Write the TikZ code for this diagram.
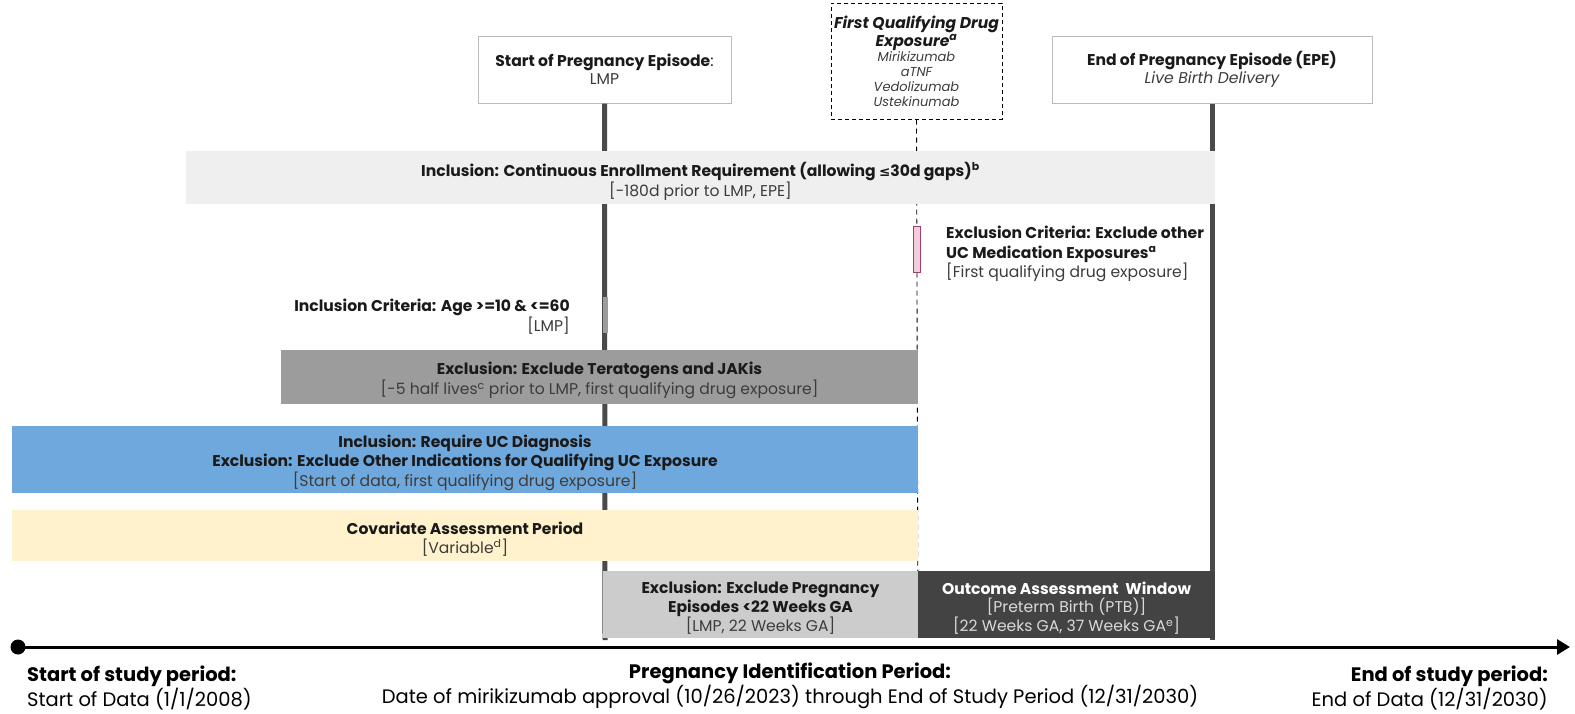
\documentclass[tikz,border=0pt]{standalone}
\usepackage{fontspec}
\setmainfont{Poppins}
\newfontfamily\dvsans{DejaVu Sans}
\usetikzlibrary{arrows.meta}

\definecolor{inktext}{HTML}{1A1A1A}
\definecolor{subtext}{HTML}{3C3C3C}
\definecolor{boxedge}{HTML}{BBBBBB}
\definecolor{epline}{HTML}{4A4A4A}
\definecolor{enrollfill}{HTML}{EFEFEF}
\definecolor{teratofill}{HTML}{9C9C9C}
\definecolor{ucfill}{HTML}{6FA8DC}
\definecolor{covfill}{HTML}{FFF2CC}
\definecolor{gafill}{HTML}{CCCCCC}
\definecolor{outfill}{HTML}{434343}
\definecolor{pinkfill}{HTML}{F3CCDD}
\definecolor{pinkedge}{HTML}{A0406A}

\newcommand{\itemfont}{\fontsize{13}{15.5}\selectfont\itshape\color{subtext}}

\begin{document}
\begin{tikzpicture}[x=1pt,y=-1pt,
  topbox/.style={draw=boxedge, line width=1pt, fill=white, align=center,
    inner sep=0pt, text=inktext, font=\fontsize{15.6}{18}\selectfont},
  drugbox/.style={draw=black, line width=1pt, dashed, dash pattern=on 4pt off 3pt,
    fill=white, align=center, inner sep=0pt, text=inktext,
    font=\fontsize{15.6}{19}\selectfont},
  bandbox/.style={draw=none, inner sep=0pt},
  bandtext/.style={align=center, inner sep=0pt, text=inktext, yshift=-3.5pt,
    font=\fontsize{15.6}{18.5}\selectfont},
  note/.style={inner sep=0pt, text=inktext, font=\fontsize{15.6}{19.5}\selectfont},
  footnote/.style={inner sep=0pt, text=black, font=\fontsize{19.5}{20.5}\selectfont},
  episodeline/.style={draw=epline, line width=5pt},
  drugline/.style={draw=black, line width=0.9pt, dash pattern=on 5pt off 4pt}
]
\useasboundingbox (0,0) rectangle (1575,713);

% event boxes at the top
\node[topbox, minimum width=253pt, minimum height=67pt] (lmp) at (604.5,69.5)
  {\textbf{Start of Pregnancy Episode}:\\ {\color{subtext}LMP}};
\node[drugbox, minimum width=171pt, minimum height=116pt] (drug) at (916.5,61)
  {\textbf{\textit{First Qualifying Drug}}\\[-1pt]
   \textbf{\textit{Exposure\textsuperscript{a}}}\\[-4pt]
   {\itemfont Mirikizumab}\\[-4pt]
   {\itemfont aTNF}\\[-4pt]
   {\itemfont Vedolizumab}\\[-4pt]
   {\itemfont Ustekinumab}};
\node[topbox, minimum width=320pt, minimum height=67pt] (epe) at (1212,69.5)
  {\textbf{End of Pregnancy Episode (EPE)}\\ {\itshape\color{subtext}Live Birth Delivery}};

% vertical event lines down to the timeline
\coordinate (lmpend) at (605,640);
\coordinate (drugend) at (918,640);
\coordinate (epeend) at (1212,640);
\draw[episodeline] (lmp.south) -- (lmpend);
\draw[drugline] (drug.south) -- (drugend);
\draw[episodeline] (epe.south) -- (epeend);

% age marker on the LMP line
\node[fill=teratofill, draw=none, minimum width=5pt, minimum height=36pt, inner sep=0pt]
  (agemark) at (605,315) {};

% exclusion of other UC medications at first exposure
\node[draw=pinkedge, fill=pinkfill, line width=0.9pt, minimum width=7pt,
  minimum height=46pt, inner sep=0pt] (ucmed) at (917,249) {};
\node[note, anchor=north west, align=left] (ucmedtext) at (946,226)
  {\textbf{Exclusion Criteria: Exclude other}\\
   \textbf{UC Medication Exposures\textsuperscript{a}}\\
   {\color{subtext}[First qualifying drug exposure]}};

% age criterion
\node[note, anchor=north east, align=right] (agetext) at (570,299)
  {\textbf{Inclusion Criteria: Age >=10 \& <=60}\\ {\color{subtext}[LMP]}};

% assessment windows
\node[bandbox, fill=enrollfill, minimum width=1029pt, minimum height=53pt] (enroll) at (700.5,177.5) {};
\node[bandtext] (enrolltext) at (enroll.center)
  {\textbf{Inclusion: Continuous Enrollment Requirement (allowing {\dvsans\bfseries\fontsize{13.5}{19}\selectfont ≤}30d gaps)\textsuperscript{b}}\\
   {\color{subtext}[-180d prior to LMP, EPE]}};

\node[bandbox, fill=teratofill, minimum width=637pt, minimum height=54pt] (terato) at (599.5,377) {};
\node[bandtext] (teratotext) at (terato.center)
  {\textbf{Exclusion: Exclude Teratogens and JAKis}\\
   {\color{subtext}[-5 half lives\textsuperscript{c} prior to LMP, first qualifying drug exposure]}};

\node[bandbox, fill=ucfill, minimum width=906pt, minimum height=67pt] (ucdx) at (465,459.5) {};
\node[bandtext] (ucdxtext) at (ucdx.center)
  {\textbf{Inclusion: Require UC Diagnosis}\\
   \textbf{Exclusion: Exclude Other Indications for Qualifying UC Exposure}\\
   {\color{subtext}[Start of data, first qualifying drug exposure]}};

\node[bandbox, fill=covfill, minimum width=906pt, minimum height=51pt] (covar) at (465,535.5) {};
\node[bandtext] (covartext) at (covar.center)
  {\textbf{Covariate Assessment Period}\\
   {\color{subtext}[Variable\textsuperscript{d}]}};

\node[bandbox, fill=gafill, minimum width=315pt, minimum height=67pt] (ga22) at (760.5,604.5) {};
\node[bandtext] (ga22text) at (ga22.center)
  {\textbf{Exclusion: Exclude Pregnancy}\\
   \textbf{Episodes <22 Weeks GA}\\
   {\color{subtext}[LMP, 22 Weeks GA]}};

\node[bandbox, fill=outfill, minimum width=297pt, minimum height=67pt] (outcome) at (1066.5,604.5) {};
\node[bandtext, text=white] (outcometext) at (outcome.center)
  {\textbf{Outcome Assessment\ \ Window}\\
   {\color{white!85!black}[Preterm Birth (PTB)]}\\
   {\color{white!85!black}[22 Weeks GA, 37 Weeks GA\textsuperscript{e}]}};

% study timeline
\coordinate (tlstart) at (18,647);
\coordinate (tlend) at (1570,647);
\draw[line width=3pt, -{Triangle[length=13pt,width=15pt]}] (tlstart) -- (tlend);
\fill (tlstart) circle (7.5pt);

% period labels beneath the timeline
\node[footnote, anchor=north west, align=left] (studystart) at (27,666)
  {\textbf{Start of study period:}\\ Start of Data (1/1/2008)};
\node[footnote, anchor=north, align=center] (pregid) at (790,663)
  {\textbf{Pregnancy Identification Period:}\\
   Date of mirikizumab approval (10/26/2023) through End of Study Period (12/31/2030)};
\node[footnote, anchor=north east, align=right] (studyend) at (1548,666)
  {\textbf{End of study period:}\\ End of Data (12/31/2030)};
\end{tikzpicture}
\end{document}
